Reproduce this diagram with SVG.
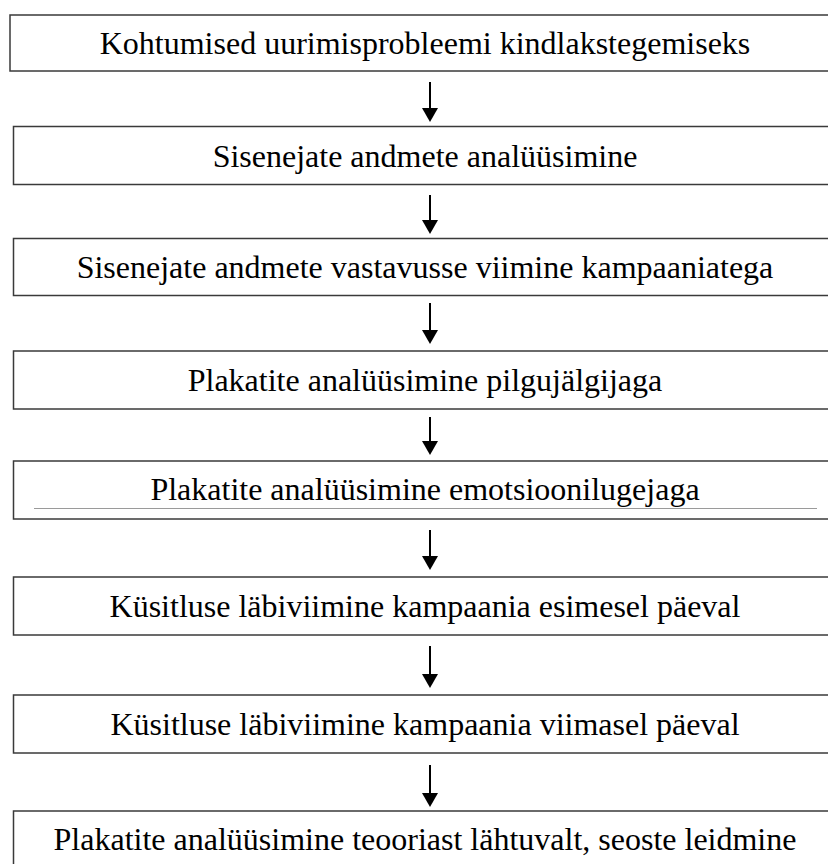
<svg xmlns="http://www.w3.org/2000/svg" width="828" height="864" viewBox="0 0 828 864">
<style>
.box{fill:#fff;stroke:#3a3a3a;stroke-width:1.5}
.t{font-family:"Liberation Serif","Times New Roman",serif;font-size:32px;fill:#000;text-anchor:middle}
.c{stroke:#000;stroke-width:2;fill:none}
</style>
<rect width="828" height="864" fill="#fff"/>
<g id="n1"><rect class="box" x="10" y="15" width="830" height="56"/><text class="t" x="425" y="54">Kohtumised uurimisprobleemi kindlakstegemiseks</text></g>
<g id="n2"><rect class="box" x="13.5" y="126.5" width="830" height="58"/><text class="t" x="425" y="167">Sisenejate andmete analüüsimine</text></g>
<g id="n3"><rect class="box" x="13.5" y="238.5" width="830" height="57"/><text class="t" x="425" y="278">Sisenejate andmete vastavusse viimine kampaaniatega</text></g>
<g id="n4"><rect class="box" x="13.5" y="351" width="830" height="58"/><text class="t" x="425" y="391">Plakatite analüüsimine pilgujälgijaga</text></g>
<g id="n5"><rect class="box" x="13.5" y="461" width="830" height="58"/><text class="t" x="425" y="500">Plakatite analüüsimine emotsioonilugejaga</text><line x1="34" y1="508.5" x2="817" y2="508.5" stroke="#9a9a9a" stroke-width="1"/></g>
<g id="n6"><rect class="box" x="13.5" y="577" width="830" height="58"/><text class="t" x="425" y="617">Küsitluse läbiviimine kampaania esimesel päeval</text></g>
<g id="n7"><rect class="box" x="13.5" y="695" width="830" height="58"/><text class="t" x="425" y="735">Küsitluse läbiviimine kampaania viimasel päeval</text></g>
<g id="n8"><rect class="box" x="13.5" y="811" width="830" height="80"/><text class="t" x="425" y="850">Plakatite analüüsimine teooriast lähtuvalt, seoste leidmine</text></g>
<g id="connectors" fill="#000">
<line class="c" x1="430" y1="82" x2="430" y2="110"/><path d="M422,108 L438,108 L430,122 Z"/>
<line class="c" x1="430" y1="195" x2="430" y2="222"/><path d="M422,220 L438,220 L430,234 Z"/>
<line class="c" x1="430" y1="303" x2="430" y2="332"/><path d="M422,330 L438,330 L430,344 Z"/>
<line class="c" x1="430" y1="417" x2="430" y2="443"/><path d="M422,441 L438,441 L430,455 Z"/>
<line class="c" x1="430" y1="530" x2="430" y2="558"/><path d="M422,556 L438,556 L430,570 Z"/>
<line class="c" x1="430" y1="646" x2="430" y2="676"/><path d="M422,674 L438,674 L430,688 Z"/>
<line class="c" x1="430" y1="765" x2="430" y2="795"/><path d="M422,793 L438,793 L430,807 Z"/>
</g>
</svg>
